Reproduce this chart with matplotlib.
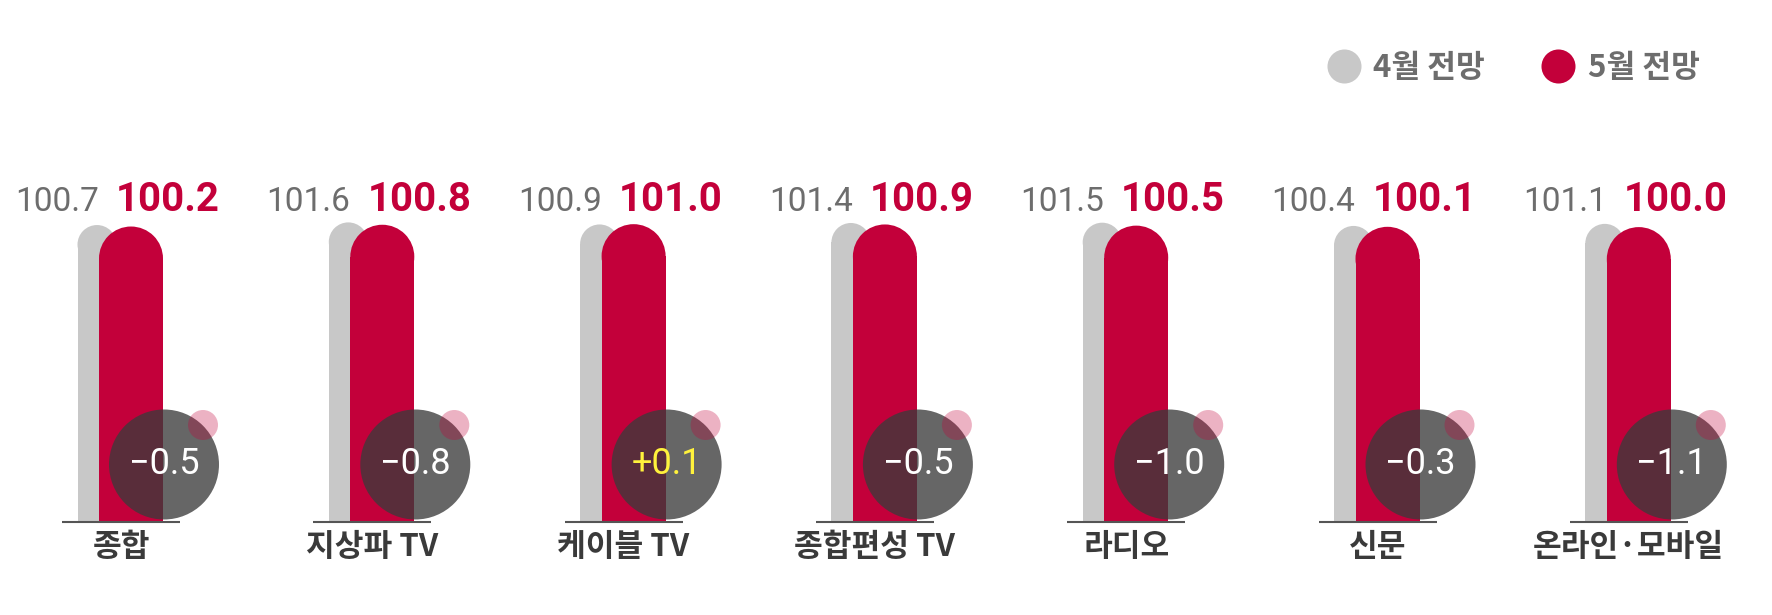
import numpy as np
import matplotlib.pyplot as plt
from matplotlib.patches import Ellipse
from matplotlib.lines import Line2D

categories = ['종합', '지상파 TV', '케이블 TV', '종합편성 TV', '라디오', '신문', '온라인·모바일']
april = np.array([100.7, 101.6, 100.9, 101.4, 101.5, 100.4, 101.1])
may = np.array([100.2, 100.8, 101.0, 100.9, 100.5, 100.1, 100.0])
series_names = ['4월 전망', '5월 전망']

RED = '#c3003a'
GRAY = '#c8c8c8'
NUM = ['Roboto', 'DejaVu Sans']
KR = ['Noto Sans CJK KR', 'DejaVu Sans']

W, H = 1772, 615
fig = plt.figure(figsize=(W / 100, H / 100), dpi=100)
ax = fig.add_axes([0, 0, 1, 1])

# pixel geometry of the layout
step = 251.3   # px between groups
unit = 2.939   # px per index point
x0 = 121       # px, centre of first group
y0 = 94        # px, zero line from bottom
ax.set_xlim(-x0 / step, (W - x0) / step)
ax.set_ylim(-y0 / unit, (H - y0) / unit)
ax.axis('off')


def px(d):
    return d / step


def py(d):
    return d / unit


def round_bar(xc, w, value, color, z):
    r = py(w / 2)
    ax.bar(xc, value - r, width=px(w), color=color, linewidth=0, zorder=z)
    ax.add_patch(Ellipse((xc, value - r), px(w), py(w), color=color, lw=0, zorder=z))


x = np.arange(len(categories))
delta = np.round(may - april, 1)

for i in x:
    round_bar(i - px(24), 39, april[i], GRAY, 1)
    round_bar(i + px(10), 64, may[i], RED, 2)
    ax.plot([i - px(59), i + px(59)], [-py(1), -py(1)], color='#555555', lw=1.5,
            solid_capstyle='butt', zorder=3)

    # change bubble
    cx, cy = i + px(43), py(150.5 - y0)
    ax.add_patch(Ellipse((cx, cy), px(110), py(110), color='#3b3b3b', alpha=0.78,
                         lw=0, zorder=4))
    ax.add_patch(Ellipse((i + px(82), py(190 - y0)), px(30), py(30), color=RED,
                         alpha=0.3, lw=0, zorder=5))
    d = delta[i]
    txt = ('+%.1f' % d) if d > 0 else ('\u2212%.1f' % abs(d))
    ax.text(cx, cy, txt, ha='center', va='center', fontsize=26,
            color='#fff23c' if d > 0 else 'white', family=NUM, zorder=6)

    # value labels
    ax.text(i - px(22), py(404 - y0), '%.1f' % april[i], ha='right', va='baseline',
            fontsize=24, color='#6d6d6d', family=NUM)
    ax.text(i - px(5), py(404 - y0), '%.1f' % may[i], ha='left', va='baseline',
            fontsize=29, fontweight='bold', color=RED, family=NUM)

    ax.text(i, py(68 - y0), categories[i], ha='center', va='center', fontsize=22.5,
            fontweight='bold', color='#3a3a3a', family=KR)

handles = [Line2D([], [], marker='o', ls='none', markersize=24.5, color=c,
                  markeredgewidth=0) for c in (GRAY, RED)]
leg = fig.legend(handles, series_names, loc='center right', ncol=2,
                 bbox_to_anchor=(1700 / W, 1 - 68 / H), frameon=False,
                 borderpad=0, borderaxespad=0, handlelength=1.1,
                 handletextpad=0.4, columnspacing=1.8,
                 prop={'family': KR, 'size': 22.5, 'weight': 'bold'})
for t in leg.get_texts():
    t.set_color('#6d6d6d')

fig.savefig('out.png', dpi=100)
